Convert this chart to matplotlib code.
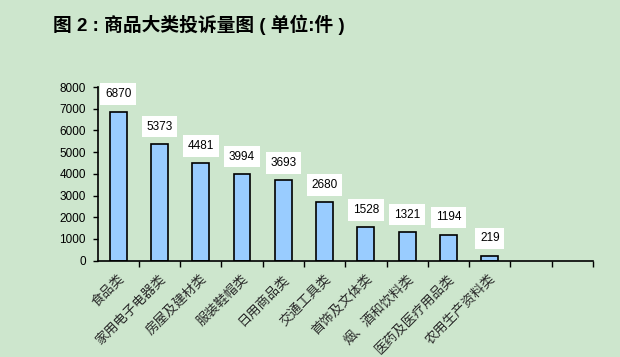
import numpy as np
import matplotlib
matplotlib.use('Agg')
import matplotlib.pyplot as plt
from matplotlib.transforms import ScaledTranslation

plt.rcParams['font.family'] = ['Liberation Sans', 'Noto Sans CJK SC', 'DejaVu Sans']

categories = ['食品类', '家用电子电器类', '房屋及建材类', '服装鞋帽类', '日用商品类',
              '交通工具类', '首饰及文体类', '烟、酒和饮料类', '医药及医疗用品类', '农用生产资料类']
counts = [6870, 5373, 4481, 3994, 3693, 2680, 1528, 1321, 1194, 219]
n_slots = 12
yticks = np.arange(0, 8001, 1000)

bg = '#cde6cd'
fig = plt.figure(figsize=(6.2, 3.57), dpi=100, facecolor=bg)
ax = fig.add_axes([97.5 / 620, 1 - 260.6 / 357, (593 - 97.5) / 620, (260.6 - 87) / 357])
ax.set_facecolor(bg)

x = np.arange(len(categories))
ax.bar(x, counts, width=0.41, color='#99ccff', edgecolor='black', linewidth=1.2, zorder=2)

# value labels in white boxes
for xi, v in zip(x, counts):
    ax.annotate(str(v), (xi, v), xytext=(0, 12.5), textcoords='offset points',
                ha='center', va='center', fontsize=8.5,
                bbox=dict(boxstyle='square,pad=0.4', fc='white', ec='none'))

ax.set_xlim(-0.5, n_slots - 0.5)
ax.set_ylim(0, 8000)
ax.set_yticks(yticks)
ax.set_yticklabels([str(t) for t in yticks], fontsize=8.5)
ax.tick_params(axis='y', direction='out', length=3.5, width=1, pad=5)

ax.set_xticks(x)
labels = ax.set_xticklabels(categories, rotation=45, rotation_mode='anchor',
                            ha='right', va='center', fontsize=9.5,
                            family=['Noto Sans CJK SC', 'DejaVu Sans'], color='#2a2a2a')
ax.tick_params(axis='x', which='major', length=0, pad=0)
shift = ScaledTranslation(4 / 100, -16 / 100, fig.dpi_scale_trans)
for lab in labels:
    lab.set_transform(lab.get_transform() + shift)
ax.set_xticks(np.arange(0.5, n_slots, 1), minor=True)
ax.tick_params(axis='x', which='minor', direction='out', length=4, width=1)

for side in ['top', 'right']:
    ax.spines[side].set_visible(False)
for side in ['left', 'bottom']:
    ax.spines[side].set_linewidth(1.2)

fig.text(53 / 620, 1 - 25 / 357, '图 2 : 商品大类投诉量图 ( 单位:件 )',
         fontsize=13.5, fontweight='bold', va='center', ha='left')

fig.savefig('out.png', dpi=100, facecolor=bg)
